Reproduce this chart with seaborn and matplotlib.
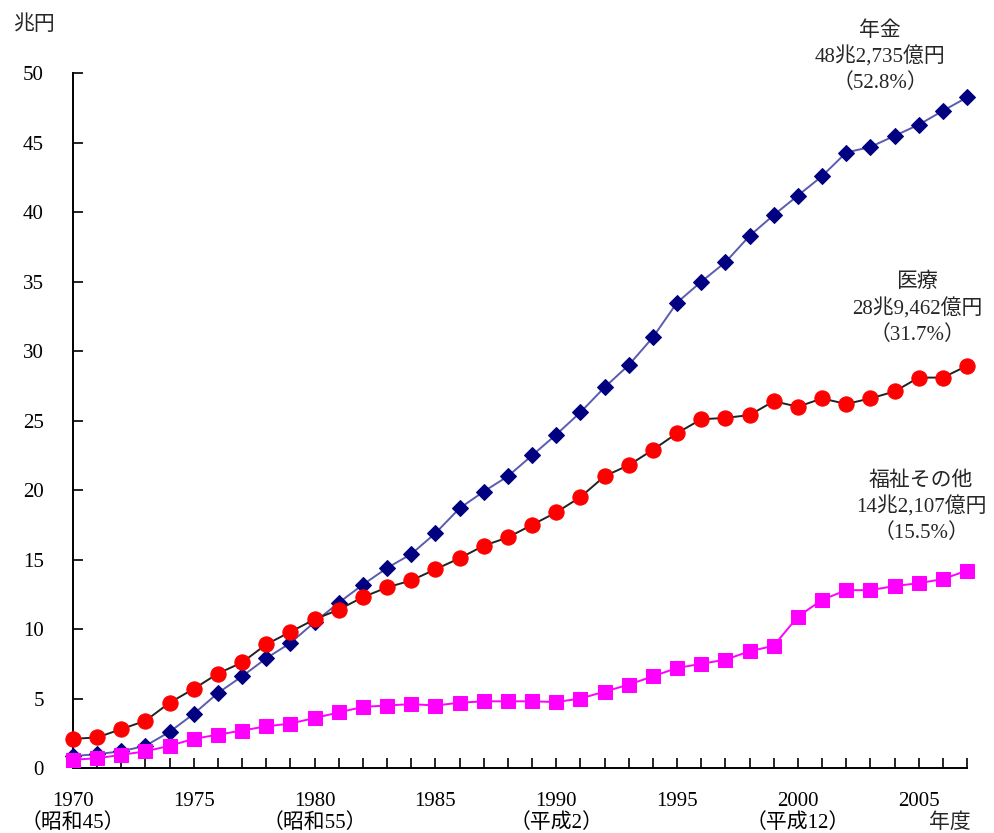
import numpy as np
import pandas as pd
import seaborn as sns
import matplotlib
matplotlib.use("Agg")
import matplotlib.pyplot as plt

# Social security benefits by category, trillion yen, fiscal years 1970-2007
years = list(range(1970, 2008))

pension = [0.86, 1.0, 1.2, 1.6, 2.6, 3.9, 5.4, 6.6, 7.9, 9.0,
           10.5, 11.9, 13.2, 14.4, 15.4, 16.9, 18.7, 19.9, 21.0, 22.5,
           24.0, 25.6, 27.4, 29.0, 31.0, 33.5, 35.0, 36.4, 38.3, 39.8,
           41.2, 42.6, 44.3, 44.7, 45.5, 46.3, 47.3, 48.27]

medical = [2.1, 2.2, 2.8, 3.4, 4.7, 5.7, 6.8, 7.6, 8.9, 9.8,
           10.7, 11.4, 12.3, 13.0, 13.5, 14.3, 15.1, 16.0, 16.6, 17.5,
           18.4, 19.5, 21.0, 21.8, 22.9, 24.1, 25.1, 25.2, 25.4, 26.4,
           26.0, 26.6, 26.2, 26.6, 27.1, 28.1, 28.1, 28.95]

welfare = [0.6, 0.7, 0.95, 1.2, 1.6, 2.1, 2.4, 2.7, 3.0, 3.2,
           3.6, 4.0, 4.4, 4.5, 4.6, 4.5, 4.7, 4.8, 4.8, 4.8,
           4.75, 5.0, 5.5, 6.0, 6.6, 7.2, 7.5, 7.8, 8.4, 8.8,
           10.9, 12.1, 12.8, 12.8, 13.1, 13.3, 13.6, 14.21]

tick_years = [1970, 1975, 1980, 1985, 1990, 1995, 2000, 2005]
tick_labels = ["1970\n（昭和45）", "1975", "1980\n（昭和55）", "1985",
               "1990\n（平成2）", "1995", "2000\n（平成12）", "2005"]

series_notes = [
    ("年金", "48兆2,735億円", "（52.8%）"),
    ("医療", "28兆9,462億円", "（31.7%）"),
    ("福祉その他", "14兆2,107億円", "（15.5%）"),
]

sns.set_style("ticks")
plt.rcParams["font.family"] = ["Liberation Serif", "Noto Sans CJK JP"]

FS = 15

fig = plt.figure(figsize=(9.94, 8.33), dpi=100)
ax = fig.add_axes([0.0734, 0.078, 0.8995, 0.834])

df = pd.DataFrame({"year": years, "pension": pension,
                   "medical": medical, "welfare": welfare})

sns.lineplot(data=df, x="year", y="pension", ax=ax, color="#5b5bb0",
             linewidth=1.4, marker="D", markersize=8,
             markerfacecolor="#000080", markeredgecolor="#000080",
             clip_on=False, zorder=3)
sns.lineplot(data=df, x="year", y="medical", ax=ax, color="#222222",
             linewidth=1.4, marker="o", markersize=11,
             markerfacecolor="#ff0000", markeredgecolor="#ff0000",
             clip_on=False, zorder=3)
sns.lineplot(data=df, x="year", y="welfare", ax=ax, color="#ff00ff",
             linewidth=1.4, marker="s", markersize=10,
             markerfacecolor="#ff00ff", markeredgecolor="#ff00ff",
             clip_on=False, zorder=3)

ax.set_xlim(1970, 2007)
ax.set_ylim(0, 50)
ax.set_yticks(np.arange(0, 51, 5))
ax.set_xticks(years, minor=True)
ax.set_xticks(tick_years)
ax.set_xticklabels(tick_labels, linespacing=1.15)
ax.tick_params(axis="y", direction="in", length=7, width=1.2, pad=21,
               labelsize=FS, colors="black")
ax.tick_params(axis="x", which="both", direction="in", length=7, width=1.2,
               pad=17, labelsize=FS, colors="black")
for side in ("top", "right"):
    ax.spines[side].set_visible(False)
for side in ("left", "bottom"):
    ax.spines[side].set_linewidth(1.4)
    ax.spines[side].set_color("black")
ax.set_xlabel("")
ax.set_ylabel("")

fig.text(13 / 994, 1 - 25 / 833, "兆円", fontsize=FS, ha="left", va="center")
fig.text(950 / 994, 1 - 823 / 833, "年度", fontsize=FS, ha="center", va="center")

note_pos = [(880, 21), (917, 273), (921, 471)]
for (title, amount, share), (px, py) in zip(series_notes, note_pos):
    fig.text(px / 994, 1 - py / 833, f"{title}\n{amount}\n{share}",
             fontsize=FS, ha="center", va="top", linespacing=1.38,
             transform=fig.transFigure)

fig.savefig("out.png", dpi=100)
